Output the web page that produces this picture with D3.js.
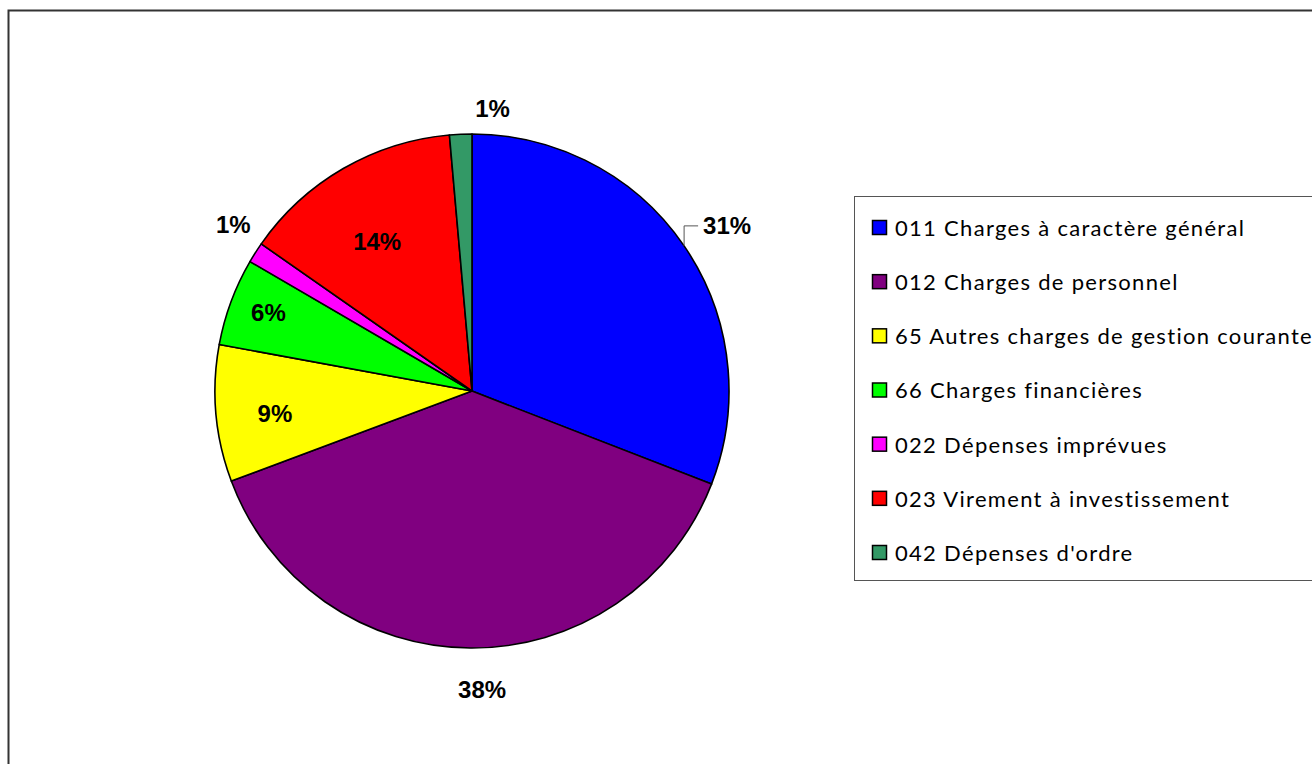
<!DOCTYPE html>
<html>
<head>
<meta charset="utf-8">
<script src="https://cdn.jsdelivr.net/npm/d3@7"></script>
<style>
  body { margin: 0; background: #fff; }
  svg { display: block; }
</style>
</head>
<body>
<script>
var categories = [
	"011 Charges à caractère général",
	"012 Charges de personnel",
	"65 Autres charges de gestion courante",
	"66 Charges financières",
	"022 Dépenses imprévues",
	"023 Virement à investissement",
	"042 Dépenses d'ordre"
];
var values = [30.9, 38.4, 8.6, 5.5, 1.3, 13.9, 1.4];
var colors = ["#0000FF", "#800080", "#FFFF00", "#00FF00", "#FF00FF", "#FF0000", "#339966"];
var pctLabels = ["31%", "38%", "9%", "6%", "1%", "14%", "1%"];

// label placement: radius factor and small nudges (Excel style)
var labelRadius = [1.0, 1.16, 0.77, 0.845, 1.13, 0.69, 1.1];
var labelNudge = [[0, 0], [12, 0], [0, 5], [0, -3], [6, -10], [-6, 4], [33, 0]];

var width = 1312;
var height = 764;
var cx = 472, cy = 391, radius = 257;

var svg = d3.select("body")
			.append("svg")
			.attr("width", width)
			.attr("height", height);

// outer chart frame (runs off right/bottom)
svg.append("rect")
	.attr("x", 8.5)
	.attr("y", 10.5)
	.attr("width", 1320)
	.attr("height", 780)
	.attr("fill", "#fff")
	.attr("stroke", "#333")
	.attr("stroke-width", 2);

var pie = d3.pie().sort(null).value(function(d){ return d; });
var arcs = pie(values);

var arc = d3.arc().innerRadius(0).outerRadius(radius);

var g = svg.append("g").attr("transform", "translate(" + cx + "," + cy + ")");

g.selectAll("path")
	.data(arcs)
	.enter()
		.append("path")
		.attr("d", arc)
		.attr("fill", function(d, i){ return colors[i]; })
		.attr("stroke", "#000")
		.attr("stroke-width", 1.6)
		.attr("stroke-linejoin", "round");

function midAngle(d){ return (d.startAngle + d.endAngle) / 2; }

// labels
g.selectAll("text.pct")
	.data(arcs)
	.enter()
		.append("text")
		.attr("class", "pct")
		.each(function(d, i){
			var a = midAngle(d);
			var sel = d3.select(this);
			if (i === 0) {
				// leader line label
				var px = radius * Math.sin(a), py = -radius * Math.cos(a);
				g.append("polyline")
					.attr("points", [[px, py], [px, py - 20], [px + 14, py - 20]].map(function(p){ return p.join(","); }).join(" "))
					.attr("fill", "none")
					.attr("stroke", "#555")
					.attr("stroke-width", 1);
				sel.attr("x", px + 19).attr("y", py - 20).attr("text-anchor", "start");
			} else {
				var r = radius * labelRadius[i];
				sel.attr("x", r * Math.sin(a) + labelNudge[i][0])
				   .attr("y", -r * Math.cos(a) + labelNudge[i][1])
				   .attr("text-anchor", "middle");
			}
		})
		.attr("dy", "0.35em")
		.attr("font-family", "'Liberation Sans', Arial, sans-serif")
		.attr("font-weight", "bold")
		.attr("font-size", "24px")
		.attr("fill", "#000")
		.text(function(d, i){ return pctLabels[i]; });

// legend
var legendY = d3.scalePoint()
				.domain(categories)
				.range([228, 553]);

var legend = svg.append("g");

legend.append("rect")
	.attr("x", 854.5)
	.attr("y", 196.5)
	.attr("width", 480)
	.attr("height", 384)
	.attr("fill", "#fff")
	.attr("stroke", "#555")
	.attr("stroke-width", 1);

var items = legend.selectAll("g.item")
	.data(categories)
	.enter()
		.append("g")
		.attr("class", "item")
		.attr("transform", function(d){ return "translate(0," + legendY(d) + ")"; });

items.append("rect")
	.attr("x", 872.5)
	.attr("y", -7.5)
	.attr("width", 14)
	.attr("height", 14)
	.attr("fill", function(d, i){ return colors[i]; })
	.attr("stroke", "#000")
	.attr("stroke-width", 1.5);

items.append("text")
	.attr("x", 895)
	.attr("dy", "0.36em")
	.attr("font-family", "Lato, 'Open Sans', sans-serif")
	.attr("font-size", "22px")
	.attr("letter-spacing", "1.3px")
	.attr("fill", "#000")
	.text(function(d){ return d; });
</script>
</body>
</html>
